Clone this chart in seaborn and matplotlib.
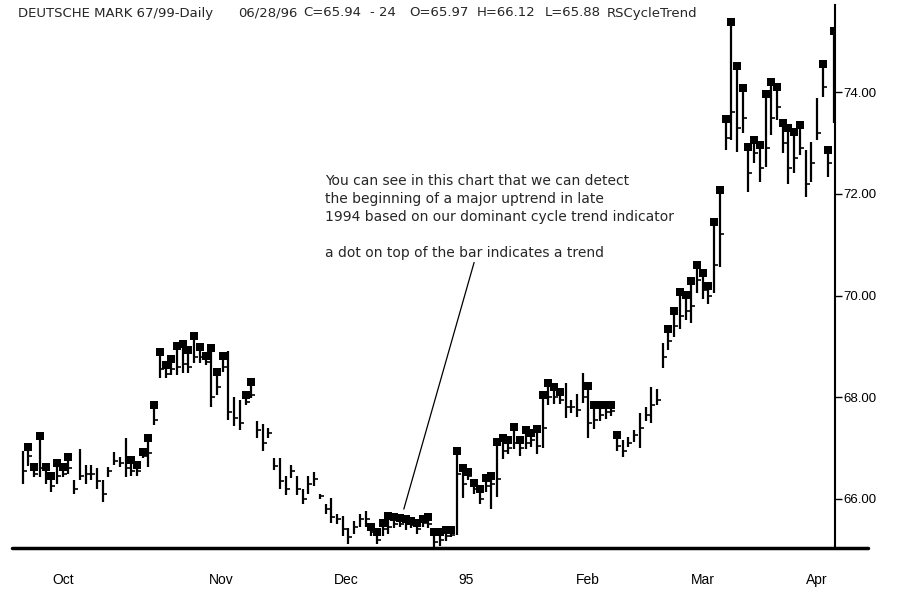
import numpy as np
import pandas as pd
import seaborn as sns
import matplotlib.pyplot as plt
from matplotlib.lines import Line2D

# daily bars (index = trading day), prices
high = [66.95, 67.02, 66.63, 67.23, 66.63, 66.46, 66.70, 66.63, 66.82, 66.37,
        66.98, 66.66, 66.66, 66.60, 66.37, 66.63, 66.92, 66.82, 67.20, 66.76,
        66.66, 66.92, 67.19, 67.84, 68.88, 68.63, 68.76, 69.00, 69.05, 68.93,
        69.20, 68.99, 68.82, 68.96,
        68.50, 68.82, 68.90, 68.00, 67.94, 68.04, 68.30, 67.54, 67.48, 67.40,
        66.80, 66.80, 66.46, 66.66, 66.46, 66.20, 66.46, 66.53, 66.10, 65.90,
        66.02, 65.70, 65.67, 65.42, 65.57, 65.71, 65.77, 65.44, 65.35, 65.52,
        65.67, 65.65, 65.63, 65.61, 65.57, 65.52, 65.61, 65.65, 65.35, 65.35,
        65.38, 65.38, 66.95, 66.60, 66.53, 66.32, 66.20, 66.42, 66.46, 67.11,
        67.19, 67.15, 67.42, 67.15, 67.35, 67.29, 67.37, 68.05, 68.27, 68.20,
        68.10, 68.27, 67.94, 68.07, 68.47, 68.23, 67.84, 67.84, 67.84, 67.84,
        67.25, 67.15, 67.22, 67.35, 67.68, 67.80, 68.20, 68.17, 69.06, 69.35,
        69.69, 70.06, 70.02, 70.28, 70.60, 70.44, 70.18, 71.44, 72.07, 73.47,
        75.38, 74.52, 74.08, 72.92, 73.06, 72.96, 73.96, 74.20, 74.10, 73.40,
        73.30, 73.22, 73.35, 72.86, 73.02, 73.88, 74.55, 72.86, 75.20]
low = [66.30, 66.65, 66.43, 66.43, 66.30, 66.14, 66.30, 66.43, 66.50, 66.10,
       66.37, 66.30, 66.37, 66.20, 65.94, 66.43, 66.66, 66.63, 66.43, 66.46,
       66.46, 66.80, 66.63, 67.46, 68.37, 68.37, 68.44, 68.44, 68.48, 68.48,
       68.67, 68.67, 68.63, 67.81,
       68.04, 68.50, 67.55, 67.44, 67.35, 67.84, 67.98, 67.20, 66.95, 67.20,
       66.56, 66.20, 66.07, 66.42, 66.07, 65.90, 66.10, 66.26, 66.00, 65.70,
       65.52, 65.51, 65.28, 65.12, 65.32, 65.44, 65.44, 65.28, 65.12, 65.28,
       65.32, 65.42, 65.45, 65.38, 65.42, 65.32, 65.45, 65.42, 65.05, 65.08,
       65.18, 65.25, 65.30, 66.02, 66.37, 66.10, 65.90, 66.14, 65.80, 66.03,
       66.79, 66.89, 66.99, 66.85, 66.99, 67.02, 66.89, 67.00, 67.84, 67.87,
       67.87, 67.60, 67.68, 67.61, 67.88, 67.19, 67.38, 67.54, 67.57, 67.64,
       66.95, 66.82, 67.02, 67.12, 67.00, 67.54, 67.50, 67.84, 68.57, 68.92,
       69.18, 69.35, 69.51, 69.45, 70.04, 69.94, 69.84, 70.04, 70.56, 72.86,
       73.06, 72.82, 73.19, 72.03, 72.60, 72.23, 72.52, 73.15, 73.45, 72.80,
       72.20, 72.40, 72.76, 71.93, 72.24, 73.06, 73.90, 72.33, 73.39]
close = [66.55, 66.85, 66.50, 66.60, 66.40, 66.25, 66.45, 66.50, 66.60, 66.20,
         66.45, 66.50, 66.50, 66.35, 66.10, 66.55, 66.75, 66.70, 66.60, 66.55,
         66.55, 66.85, 66.90, 67.55, 68.55, 68.45, 68.55, 68.60, 68.65, 68.60,
         68.80, 68.80, 68.70, 68.00,
         68.20, 68.60, 67.70, 67.60, 67.50, 67.90, 68.05, 67.35, 67.10, 67.30,
         66.65, 66.35, 66.20, 66.55, 66.20, 66.00, 66.30, 66.40, 66.05, 65.80,
         65.65, 65.60, 65.40, 65.25, 65.45, 65.60, 65.60, 65.35, 65.20, 65.40,
         65.45, 65.50, 65.50, 65.50, 65.48, 65.40, 65.52, 65.50, 65.15, 65.20,
         65.28, 65.30, 66.50, 66.30, 66.45, 66.20, 66.00, 66.25, 66.30, 66.40,
         66.95, 67.00, 67.10, 67.00, 67.10, 67.15, 67.05, 67.40, 68.00, 68.00,
         67.95, 67.80, 67.80, 67.75, 68.00, 67.50, 67.55, 67.65, 67.70, 67.72,
         67.05, 66.95, 67.10, 67.25, 67.40, 67.65, 67.85, 67.95, 68.80, 69.10,
         69.40, 69.60, 69.70, 69.80, 70.30, 70.10, 70.00, 70.60, 71.20, 73.10,
         73.60, 73.30, 73.50, 72.40, 72.80, 72.50, 72.90, 73.50, 73.70, 73.00,
         72.50, 72.70, 72.90, 72.20, 72.60, 73.20, 74.10, 72.60, 73.80]
# 1 = trend dot on top of the bar
trend = [0, 1, 1, 1, 1, 1, 1, 1, 1, 0, 0, 0, 0, 0, 0, 0, 0, 0, 0, 1,
         1, 1, 1, 1, 1, 1, 1, 1, 1, 1, 1, 1, 1, 1,
         1, 1, 0, 0, 0, 1, 1, 0, 0, 0, 0, 0, 0, 0, 0, 0, 0, 0, 0, 0,
         0, 0, 0, 0, 0, 0, 0, 1, 1, 1, 1, 1, 1, 1, 1, 1, 1, 1, 1, 1,
         1, 1, 1, 1, 1, 1, 1, 1, 1, 1, 1, 1, 1, 1, 1, 1, 1, 1, 1, 1,
         1, 0, 0, 0, 0, 1, 1, 1, 1, 1, 1, 0, 0, 0, 0, 0, 0, 0, 0, 1,
         1, 1, 1, 1, 1, 1, 1, 1, 1, 1, 1, 1, 1, 1, 1, 1, 1, 1, 1, 1,
         1, 1, 1, 0, 0, 0, 1, 1, 1]

month_pos = [7.05, 34.7, 56.6, 77.6, 98.9, 119.1, 139.0]
month_labels = ["Oct", "Nov", "Dec", "95", "Feb", "Mar", "Apr"]
price_ticks = [66, 68, 70, 72, 74]

title_parts = ["DEUTSCHE MARK 67/99-Daily", "06/28/96", "C=65.94", "- 24",
               "O=65.97", "H=66.12", "L=65.88", "RSCycleTrend"]
title_x = [18, 238, 303, 370, 409, 477, 545, 607]
note_lines = ["You can see in this chart that we can detect",
              "the beginning of a major uptrend in late",
              "1994 based on our dominant cycle trend indicator",
              "a dot on top of the bar indicates a trend"]
note_y = [181, 199, 217, 253]

df = pd.DataFrame({"day": np.arange(len(high)), "high": high, "low": low,
                   "close": close, "trend": trend})

sns.set_style("white")
plt.rcParams["font.family"] = ["Liberation Sans", "DejaVu Sans"]

W, H = 905, 592
fig = plt.figure(figsize=(W / 100, H / 100), dpi=100)
ax = fig.add_axes([12 / W, 1 - 548 / H, (835 - 12) / W, (548 - 5) / H])

ax.vlines(df["day"], df["low"], df["high"], color="black", lw=1.6)
ax.plot(df["day"], df["close"], ls="none", marker=1, ms=3, mew=1.2,
        color="black")
sns.scatterplot(data=df[df["trend"] == 1], x="day", y="high", marker="s",
                s=30, color="black", edgecolor="black", linewidth=0,
                legend=False, ax=ax)

ax.set_xlim(-1.87, 142.16)
ax.set_ylim(65.035, 75.713)
ax.set_xlabel("")
ax.set_ylabel("")

for s in ["left", "top", "bottom"]:
    ax.spines[s].set_visible(False)
ax.spines["right"].set_linewidth(1.5)
ax.spines["right"].set_color("black")

ax.yaxis.tick_right()
ax.set_yticks(price_ticks)
ax.set_yticklabels([f"{v:.2f}" for v in price_ticks])
ax.tick_params(axis="y", direction="out", length=5, width=1, pad=1,
               labelsize=9.5, colors="black")
ax.set_xticks(month_pos)
ax.set_xticklabels(month_labels)
ax.tick_params(axis="x", length=0, pad=18, labelsize=10, colors="black")

# long bottom rule, runs past the price axis
fig.add_artist(Line2D([12 / W, 868 / W], [1 - 548 / H] * 2, color="black",
                      lw=2.5, transform=fig.transFigure))

for txt, x in zip(title_parts, title_x):
    fig.text(x / W, 1 - 13 / H, txt, fontsize=9.5, va="center", ha="left",
             family="DejaVu Sans")
for txt, y in zip(note_lines, note_y):
    fig.text(325 / W, 1 - y / H, txt, fontsize=10, va="center", ha="left",
             family="DejaVu Sans")

ax.annotate("", xy=(66.7, 65.8), xytext=(79.0, 70.65),
            arrowprops=dict(arrowstyle="-", lw=0.9, color="black",
                            shrinkA=0, shrinkB=0))

fig.savefig("out.png", dpi=100)
plt.close(fig)
